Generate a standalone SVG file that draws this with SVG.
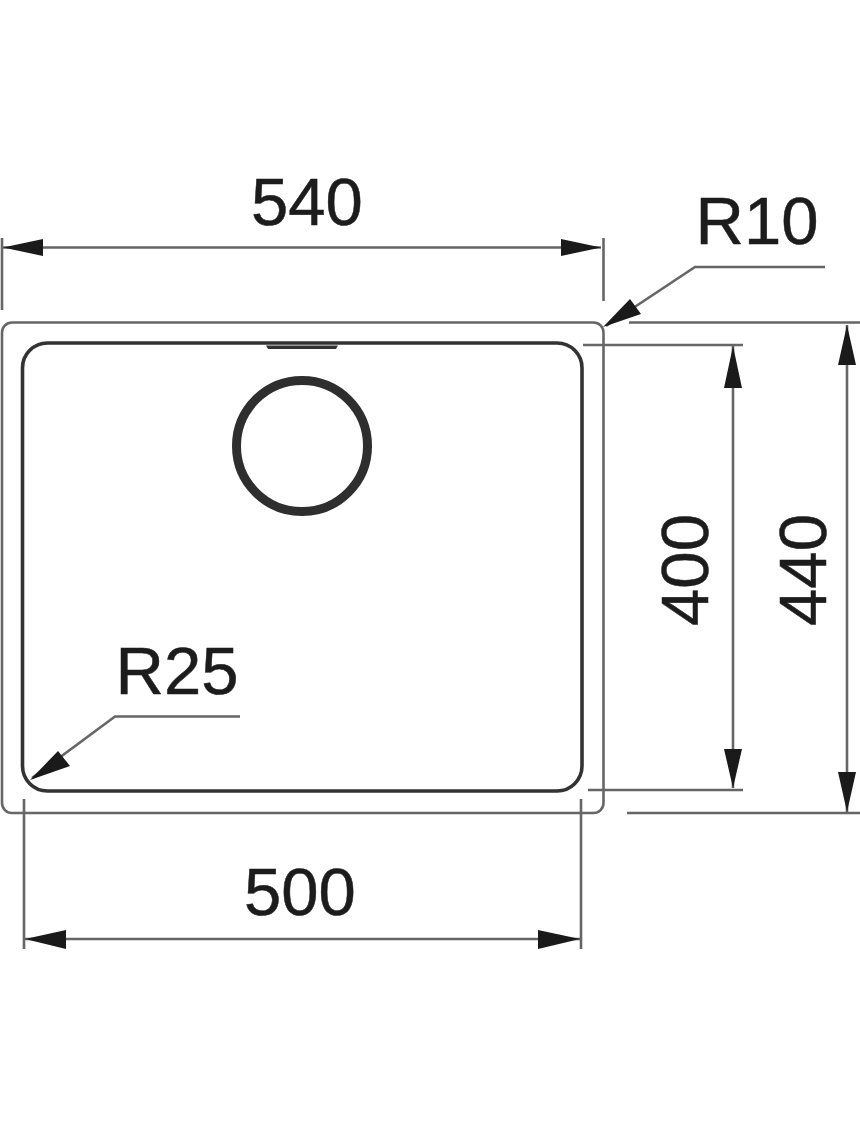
<svg xmlns="http://www.w3.org/2000/svg" width="860" height="1125" viewBox="0 0 860 1125">
<style>
.t{font-family:"Liberation Sans",Arial,sans-serif;font-size:67px;fill:#1c1c1c;stroke:#1c1c1c;stroke-width:.5}
.d{fill:none;stroke:#666;stroke-width:2.6}
.a{fill:#1a1a1a;stroke:none}
</style>
<rect width="860" height="1125" fill="#fff"/>
<g id="sink-outer"><rect x="2" y="322.500" width="601.500" height="490.500" rx="10" ry="10" fill="none" stroke="#666" stroke-width="2.600"/></g>
<g id="sink-bowl"><rect x="22.500" y="343" width="559.500" height="448" rx="25" ry="25" fill="none" stroke="#333" stroke-width="3.600"/></g>
<g id="overflow"><path d="M266 345.500L268 349H336L338 345.500Z" fill="#333"/></g>
<g id="drain"><circle cx="302" cy="446" r="65.500" fill="none" stroke="#2e2e2e" stroke-width="9"/></g>
<g id="connectors">
<path class="d" d="M2 238V310M603.500 238V301M3 247.500H601"/>
<path class="a" d="M3 247.500L43 239V256Z"/>
<path class="a" d="M601 247.500L561 239V256Z"/>
<path class="d" d="M24 799V949M581 799V949M25 939H580"/>
<path class="a" d="M25 939L66 930V949Z"/>
<path class="a" d="M580 939L538 930V949Z"/>
<path class="d" d="M583 345H743M588 790H743M733 346V788"/>
<path class="a" d="M733 346L724 388H742Z"/>
<path class="a" d="M733 788L724 749H742Z"/>
<path class="d" d="M629 322.500H860M627 813H860M847 325V812"/>
<path class="a" d="M847 325L838 365H856Z"/>
<path class="a" d="M847 812L838 772H856Z"/>
<path class="d" d="M825 267H695L606 326"/>
<path class="a" d="M603 327L630 299L641 314Z"/>
<path class="d" d="M240 716.500H115L32 778"/>
<path class="a" d="M30 780L58 751L70 766Z"/>
</g>
<g id="labels">
<text class="t" x="307" y="225" text-anchor="middle">540</text>
<text class="t" x="757" y="244" text-anchor="middle">R10</text>
<text class="t" x="177" y="694" text-anchor="middle">R25</text>
<text class="t" x="300" y="915" text-anchor="middle">500</text>
<text class="t" text-anchor="middle" transform="translate(708 570) rotate(-90)">400</text>
<text class="t" text-anchor="middle" transform="translate(826 570) rotate(-90)">440</text>
</g>
</svg>
